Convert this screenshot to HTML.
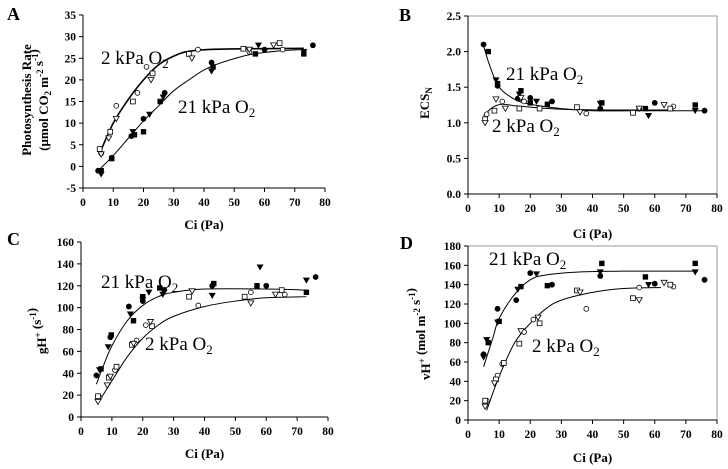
<!DOCTYPE html>
<html><head><meta charset="utf-8"><style>
html,body{margin:0;padding:0;background:#fff;}
svg{display:block;font-family:"Liberation Serif",serif;}
svg text{font-family:"Liberation Serif","DejaVu Serif",serif;}
</style></head><body>
<svg id="chart" width="728" height="469" viewBox="0 0 728 469" xmlns="http://www.w3.org/2000/svg" font-family="Liberation Serif, serif"></svg>
<script>
// ---------- Panel A data ----------
const aFilledCircle=[[5,-1],[9.5,2],[16,7],[20,11],[27,17],[42.5,24],[60,27],[76,28]];
const aFilledSquare=[[6,-1],[9.5,1.8],[17,7.3],[20,8],[25.5,15],[43,23],[57,26],[73,26]];
const aFilledTri=[[6,-1.8],[16.5,8],[22,12],[26.5,16],[42.5,22],[58,28],[73,26.5]];
const aOpenCircle=[[6,3],[11,14],[18,17],[21,23],[38,27],[55,26.5],[66,27]];
const aOpenSquare=[[5.5,4],[9,8],[16.5,15],[23,21.5],[35,26],[53,27.2],[65,28.5]];
const aOpenTri=[[6,2.8],[8.5,6.5],[11,11],[22.5,20],[36,25],[55,27],[63,28]];
const aCurve2=[[5.5,3],[10,10],[15,15.5],[20,20],[25,23.5],[30,25.5],[35,26.6],[45,27.1],[73,27.3]];
const aCurve21=[[5,-1],[10,2.5],[15,6.5],[20,10.5],[25,14],[30,17.5],[35,20],[40,22.3],[45,23.8],[55,25.8],[65,26.7],[73,27]];
const aYTicks=[-5,0,5,10,15,20,25,30,35];
// ---------- Panel B data ----------
const bFilledCircle=[[5,2.1],[9.5,1.52],[16,1.34],[20,1.35],[27,1.3],[42.5,1.2],[60,1.28],[76,1.17]];
const bFilledSquare=[[6.5,2.0],[9.5,1.55],[17,1.45],[20,1.28],[25.5,1.26],[43,1.28],[57,1.2],[73,1.25]];
const bFilledTri=[[9,1.6],[16.5,1.4],[22,1.3],[42.5,1.27],[58,1.1],[73,1.17]];
const bOpenCircle=[[6,1.12],[11,1.3],[18,1.3],[38,1.13],[55,1.2],[66,1.23]];
const bOpenSquare=[[5.5,1.05],[8.5,1.17],[16.5,1.2],[23,1.2],[35,1.22],[53,1.14],[65,1.2]];
const bOpenTri=[[5.5,1.0],[9,1.33],[12,1.2],[17,1.35],[36,1.15],[55,1.2],[63,1.25]];
const bCurve21=[[5,2.08],[7,1.8],[10,1.5],[15,1.33],[20,1.26],[30,1.2],[40,1.17],[60,1.17],[76,1.17]];
const bCurve2=[[5,1.1],[8,1.22],[11,1.26],[15,1.24],[20,1.22],[30,1.19],[45,1.18],[66,1.18]];
const bYTicks=["0.0","0.5","1.0","1.5","2.0","2.5"];
// ---------- Panel C data ----------
const cFilledCircle=[[5,38],[9.5,73],[15.5,101],[20,106],[27,116],[42.5,120],[60,120],[76,128]];
const cFilledSquare=[[6.5,44],[9.8,75],[17,88],[20,110],[25.5,118],[43,122],[57,120],[73,114]];
const cFilledTri=[[6,43],[8.8,64],[16,94],[20,107],[22,114],[26.5,112],[42.5,111],[58,137],[73,125]];
const cOpenCircle=[[6,18],[11,43],[18,70],[21,84],[38,102],[55,114],[66,112]];
const cOpenSquare=[[5.5,19],[9,36],[11.5,46],[16.5,66],[23,83],[35,110],[53,110],[65,116]];
const cOpenTri=[[5.5,14],[8.5,29],[9.5,37],[17,67],[22.5,87],[36,115],[55,104],[63,112]];
const cCurve21=[[5,30],[7,45],[10,65],[15,88],[20,102],[25,110],[30,114],[40,117],[60,117],[73,116]];
const cCurve2=[[6,15],[10,33],[15,55],[20,72],[25,84],[30,92],[40,101],[50,106],[60,109],[73,110]];
const cYTicks=[0,20,40,60,80,100,120,140,160];
// ---------- Panel D data ----------
const dFilledCircle=[[5,68],[9.5,115],[15.5,124],[20,152],[27,140],[42.5,149],[60,141],[76,145]];
const dFilledSquare=[[6.5,80],[10,102],[17,138],[25.5,139],[43,162],[57,148],[73,162]];
const dFilledTri=[[5,65],[6,83],[9.5,101],[16,135],[22,151],[42.5,153],[58,140],[73,153]];
const dOpenCircle=[[6,20],[9.5,46],[11,58],[18,91],[21,104],[38,115],[55,137],[66,138]];
const dOpenSquare=[[5.5,20],[9,42],[11.5,59],[16.5,79],[23,100],[35,134],[53,126],[65,140]];
const dOpenTri=[[5.5,14],[8.5,38],[17,92],[22.5,106],[36,132],[55,124],[63,142]];
const dCurve21=[[5,55],[8,85],[10,105],[15,130],[20,145],[25,150],[35,153],[50,154],[73,154]];
const dCurve2=[[6,10],[10,45],[15,80],[20,100],[25,115],[30,124],[40,132],[50,136],[62,137]];
const dYTicks=[0,20,40,60,80,100,120,140,160,180];
const xTicks=[0,10,20,30,40,50,60,70,80];

const NS="http://www.w3.org/2000/svg";
const FONT='"Liberation Serif", serif';
const svg=document.getElementById('chart');
function mk(tag,attrs,parent){const e=document.createElementNS(NS,tag);if(tag==='text')e.setAttribute('font-family',FONT);for(const k in attrs)e.setAttribute(k,attrs[k]);(parent||svg).appendChild(e);return e;}

function smooth(pts){
  let d="M"+pts[0][0]+","+pts[0][1];
  for(let i=0;i<pts.length-1;i++){
    const p0=pts[Math.max(0,i-1)],p1=pts[i],p2=pts[i+1],p3=pts[Math.min(pts.length-1,i+2)];
    const c1=[p1[0]+(p2[0]-p0[0])/6,p1[1]+(p2[1]-p0[1])/6];
    const c2=[p2[0]-(p3[0]-p1[0])/6,p2[1]-(p3[1]-p1[1])/6];
    d+=" C"+c1[0]+","+c1[1]+" "+c2[0]+","+c2[1]+" "+p2[0]+","+p2[1];
  }
  return d;
}

function panel(cfg){
  const g=mk('g',{});
  
  
  const sx=v=>cfg.x0+(v-0)/80*(cfg.x1-cfg.x0);
  const sy=v=>cfg.yb+(v-cfg.ymin)/(cfg.ymax-cfg.ymin)*(cfg.yt-cfg.yb);
  if(cfg.frame){
    const r=mk('rect',{x:cfg.x0,y:cfg.yt,width:cfg.x1-cfg.x0,height:cfg.yb-cfg.yt,fill:'none',stroke:'#999','stroke-width':1},g);
    
  }
  const ax=mk('path',{d:`M${cfg.x0},${cfg.yt}V${cfg.yb}H${cfg.x1}`,fill:'none',stroke:'#000','stroke-width':1},g);
  
  cfg.yticks.forEach(t=>{
    const y=sy(parseFloat(t));
    mk('line',{x1:cfg.x0-4,x2:cfg.x0,y1:y,y2:y,stroke:'#000'},g);
    const tx=mk('text',{x:cfg.x0-7,y:y+4,'text-anchor':'end','font-size':11.5,'font-weight':'bold'},g);
    tx.textContent=t;
    
  });
  xTicks.forEach(t=>{
    const x=sx(t);
    mk('line',{x1:x,x2:x,y1:cfg.yb,y2:cfg.yb+4,stroke:'#000'},g);
    const tx=mk('text',{x:x,y:cfg.yb+18,'text-anchor':'middle','font-size':11.5,'font-weight':'bold'},g);
    tx.textContent=t;
    
  });
  [[cfg.c2,cfg.w2,'fit-curve-2kpa'],[cfg.c21,1,'fit-curve-21kpa']].forEach(([c,w,n])=>{
    const p=mk('path',{d:smooth(c.map(q=>[sx(q[0]),sy(q[1])])),fill:'none',stroke:'#000','stroke-width':w},g);
    
  });
  const series=[[cfg.fc,'circle',true],[cfg.fs,'square',true],[cfg.ft,'tri',true],[cfg.oc,'circle',false],[cfg.os,'square',false],[cfg.ot,'tri',false]];
  series.forEach(([arr,shape,filled])=>{
    arr.forEach(p=>{
      const x=sx(p[0]),y=sy(p[1]);
      const st={fill:filled?'#000':'#fff',stroke:'#000','stroke-width':filled?0.6:0.8};
      let e;
      if(shape==='circle') e=mk('circle',Object.assign({cx:x,cy:y,r:filled?2.6:2.4},st),g);
      else if(shape==='square') e=mk('rect',Object.assign({x:x-2.4,y:y-2.4,width:4.8,height:4.8},st),g);
      else e=mk('path',Object.assign({d:`M${x-3},${y-2.4}H${x+3}L${x},${y+2.8}Z`},st),g);
      
      
    });
  });
  cfg.labels.forEach(([txt,x,y])=>{
    const t=mk('text',{x:x,y:y,'font-size':19},g);
    t.innerHTML=txt+' O<tspan font-size="13" dy="4">2</tspan>';
    
  });
  const L=mk('text',{x:cfg.letter[0],y:cfg.letter[1],'font-size':18,'font-weight':'bold'},g);
  L.textContent=cfg.letterTxt;
  
  const xt=mk('text',{x:(cfg.x0+cfg.x1)/2,y:cfg.xtY,'text-anchor':'middle','font-size':13,'font-weight':'bold'},g);
  xt.textContent='Ci (Pa)';
  
  cfg.ytitle.forEach(([html,x,y])=>{
    const t=mk('text',{x:x,y:y,'text-anchor':'middle','font-size':13,'font-weight':'bold',transform:`rotate(-90 ${x} ${y})`},g);
    t.innerHTML=html;
    
  });
}
const sub=s=>`<tspan font-size="9" dy="3">${s}</tspan><tspan dy="-3"> </tspan>`;
const sup=s=>`<tspan font-size="9" dy="-5">${s}</tspan><tspan dy="5"></tspan>`;

panel({name:'panel-a',letterTxt:'A',letter:[7,20],x0:83,x1:325,yt:15,yb:188,ymin:-5,ymax:35,yticks:aYTicks,frame:false,w2:1.6,
  fc:aFilledCircle,fs:aFilledSquare,ft:aFilledTri,oc:aOpenCircle,os:aOpenSquare,ot:aOpenTri,c2:aCurve2,c21:aCurve21,
  labels:[['2 kPa',101,64],['21 kPa',178,113]],xtY:229,
  ytitle:[['Photosynthesis Rate',31,100],['(μmol CO'+sub('2')+'m'+sup('-2')+' s'+sup('-1')+')',48,100]]});
panel({name:'panel-b',letterTxt:'B',letter:[399,21],x0:468,x1:717,yt:16,yb:194,ymin:0,ymax:2.5,yticks:bYTicks,frame:true,w2:1,
  fc:bFilledCircle,fs:bFilledSquare,ft:bFilledTri,oc:bOpenCircle,os:bOpenSquare,ot:bOpenTri,c2:bCurve2,c21:bCurve21,
  labels:[['21 kPa',506,80],['2 kPa',492,132]],xtY:238,
  ytitle:[['ECS'+'<tspan font-size="9" dy="3">N</tspan>',429,103]]});
panel({name:'panel-c',letterTxt:'C',letter:[7,245],x0:81,x1:328,yt:242,yb:417,ymin:0,ymax:160,yticks:cYTicks,frame:false,w2:1,
  fc:cFilledCircle,fs:cFilledSquare,ft:cFilledTri,oc:cOpenCircle,os:cOpenSquare,ot:cOpenTri,c2:cCurve2,c21:cCurve21,
  labels:[['21 kPa',101,288],['2 kPa',145,350]],xtY:458,
  ytitle:[['gH'+sup('+')+' (s'+sup('-1')+')',46,331]]});
panel({name:'panel-d',letterTxt:'D',letter:[400,249],x0:468,x1:717,yt:246,yb:420,ymin:0,ymax:180,yticks:dYTicks,frame:true,w2:1,
  fc:dFilledCircle,fs:dFilledSquare,ft:dFilledTri,oc:dOpenCircle,os:dOpenSquare,ot:dOpenTri,c2:dCurve2,c21:dCurve21,
  labels:[['21 kPa',489,265],['2 kPa',532,352]],xtY:462,
  ytitle:[['vH'+sup('+')+' (mol m'+sup('-2')+' s'+sup('-1')+')',430,334]]});
</script>
</body></html>
